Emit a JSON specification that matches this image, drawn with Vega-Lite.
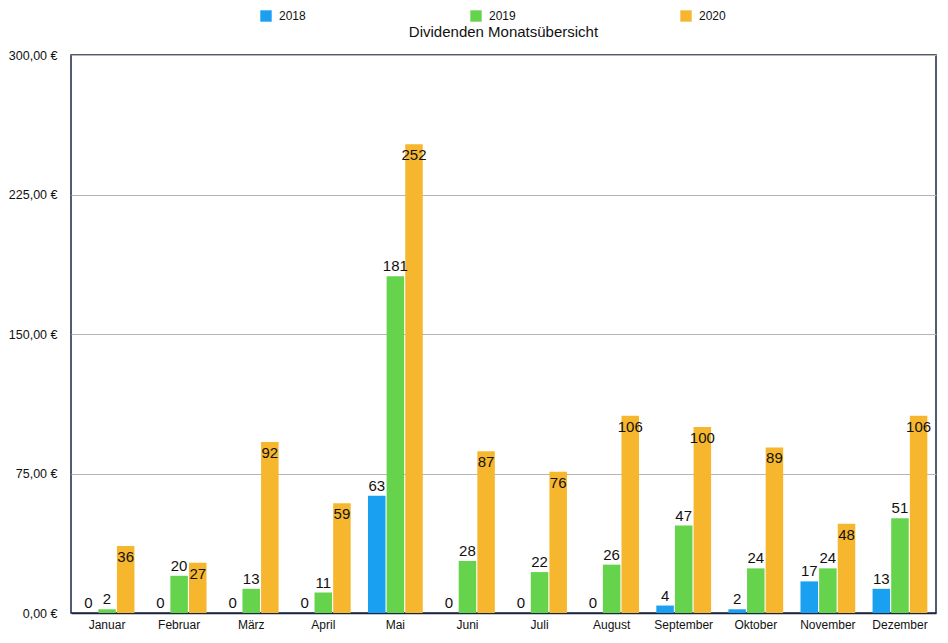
{
  "$schema": "https://vega.github.io/schema/vega-lite/v6.json",
  "width": 865,
  "height": 558,
  "autosize": {"type": "none"},
  "padding": {"left": 71, "top": 55, "right": 12, "bottom": 30},
  "background": "white",
  "title": {"text": "Dividenden Monatsübersicht", "fontSize": 15, "fontWeight": "normal", "font": "Liberation Sans", "color": "#111", "offset": 14, "dy": 44, "anchor": "middle"},
  "config": {
    "font": "Liberation Sans",
    "view": {"stroke": "#1c2540", "strokeWidth": 1.5}
  },
  "data": {"values": [
    {"month": "Januar", "year": "2018", "value": 0},
    {"month": "Januar", "year": "2019", "value": 2},
    {"month": "Januar", "year": "2020", "value": 36},
    {"month": "Februar", "year": "2018", "value": 0},
    {"month": "Februar", "year": "2019", "value": 20},
    {"month": "Februar", "year": "2020", "value": 27},
    {"month": "März", "year": "2018", "value": 0},
    {"month": "März", "year": "2019", "value": 13},
    {"month": "März", "year": "2020", "value": 92},
    {"month": "April", "year": "2018", "value": 0},
    {"month": "April", "year": "2019", "value": 11},
    {"month": "April", "year": "2020", "value": 59},
    {"month": "Mai", "year": "2018", "value": 63},
    {"month": "Mai", "year": "2019", "value": 181},
    {"month": "Mai", "year": "2020", "value": 252},
    {"month": "Juni", "year": "2018", "value": 0},
    {"month": "Juni", "year": "2019", "value": 28},
    {"month": "Juni", "year": "2020", "value": 87},
    {"month": "Juli", "year": "2018", "value": 0},
    {"month": "Juli", "year": "2019", "value": 22},
    {"month": "Juli", "year": "2020", "value": 76},
    {"month": "August", "year": "2018", "value": 0},
    {"month": "August", "year": "2019", "value": 26},
    {"month": "August", "year": "2020", "value": 106},
    {"month": "September", "year": "2018", "value": 4},
    {"month": "September", "year": "2019", "value": 47},
    {"month": "September", "year": "2020", "value": 100},
    {"month": "Oktober", "year": "2018", "value": 2},
    {"month": "Oktober", "year": "2019", "value": 24},
    {"month": "Oktober", "year": "2020", "value": 89},
    {"month": "November", "year": "2018", "value": 17},
    {"month": "November", "year": "2019", "value": 24},
    {"month": "November", "year": "2020", "value": 48},
    {"month": "Dezember", "year": "2018", "value": 13},
    {"month": "Dezember", "year": "2019", "value": 51},
    {"month": "Dezember", "year": "2020", "value": 106}
  ]},
  "encoding": {
    "x": {
      "field": "month", "type": "nominal",
      "sort": ["Januar","Februar","März","April","Mai","Juni","Juli","August","September","Oktober","November","Dezember"],
      "scale": {"paddingInner": 0.24, "paddingOuter": 0.12},
      "axis": {"title": null, "labelAngle": 0, "ticks": false, "domain": true, "domainColor": "#1c2540", "domainWidth": 1.5, "labelFontSize": 12, "labelColor": "#111", "labelPadding": 6}
    },
    "xOffset": {"field": "year", "type": "nominal", "scale": {"paddingInner": 0.06}},
    "y": {
      "field": "value", "type": "quantitative",
      "scale": {"domain": [0, 300], "nice": false},
      "axis": {"title": null, "values": [0, 75, 150, 225, 300], "ticks": false, "domain": false, "labelPadding": 14, "labelFontSize": 12.5, "labelColor": "#111", "gridColor": "#b5b5b5", "gridWidth": 1,
        "labelExpr": "replace(format(datum.value, '.2f'), '.', ',') + ' €'"}
    }
  },
  "layer": [
    {
      "mark": {"type": "bar"},
      "encoding": {
        "color": {
          "field": "year", "type": "nominal",
          "scale": {"domain": ["2018", "2019", "2020"], "range": ["#1aa0f0", "#66d34c", "#f6b72e"]},
          "legend": {"title": null, "orient": "none", "legendX": 189, "legendY": -45, "direction": "horizontal", "symbolType": "square", "symbolSize": 130, "symbolStrokeWidth": 0, "columnPadding": 164, "labelFontSize": 12, "labelColor": "#111", "labelOffset": 7}
        }
      }
    },
    {
      "transform": [{"filter": "datum.year != '2020'"}],
      "mark": {"type": "text", "dy": -10, "fontSize": 15, "color": "#111", "baseline": "middle"},
      "encoding": {"text": {"field": "value", "type": "quantitative", "format": ".0f"}}
    },
    {
      "transform": [{"filter": "datum.year == '2020'"}],
      "mark": {"type": "text", "dy": 11, "fontSize": 15, "color": "#111", "baseline": "middle"},
      "encoding": {"text": {"field": "value", "type": "quantitative", "format": ".0f"}}
    }
  ]
}
